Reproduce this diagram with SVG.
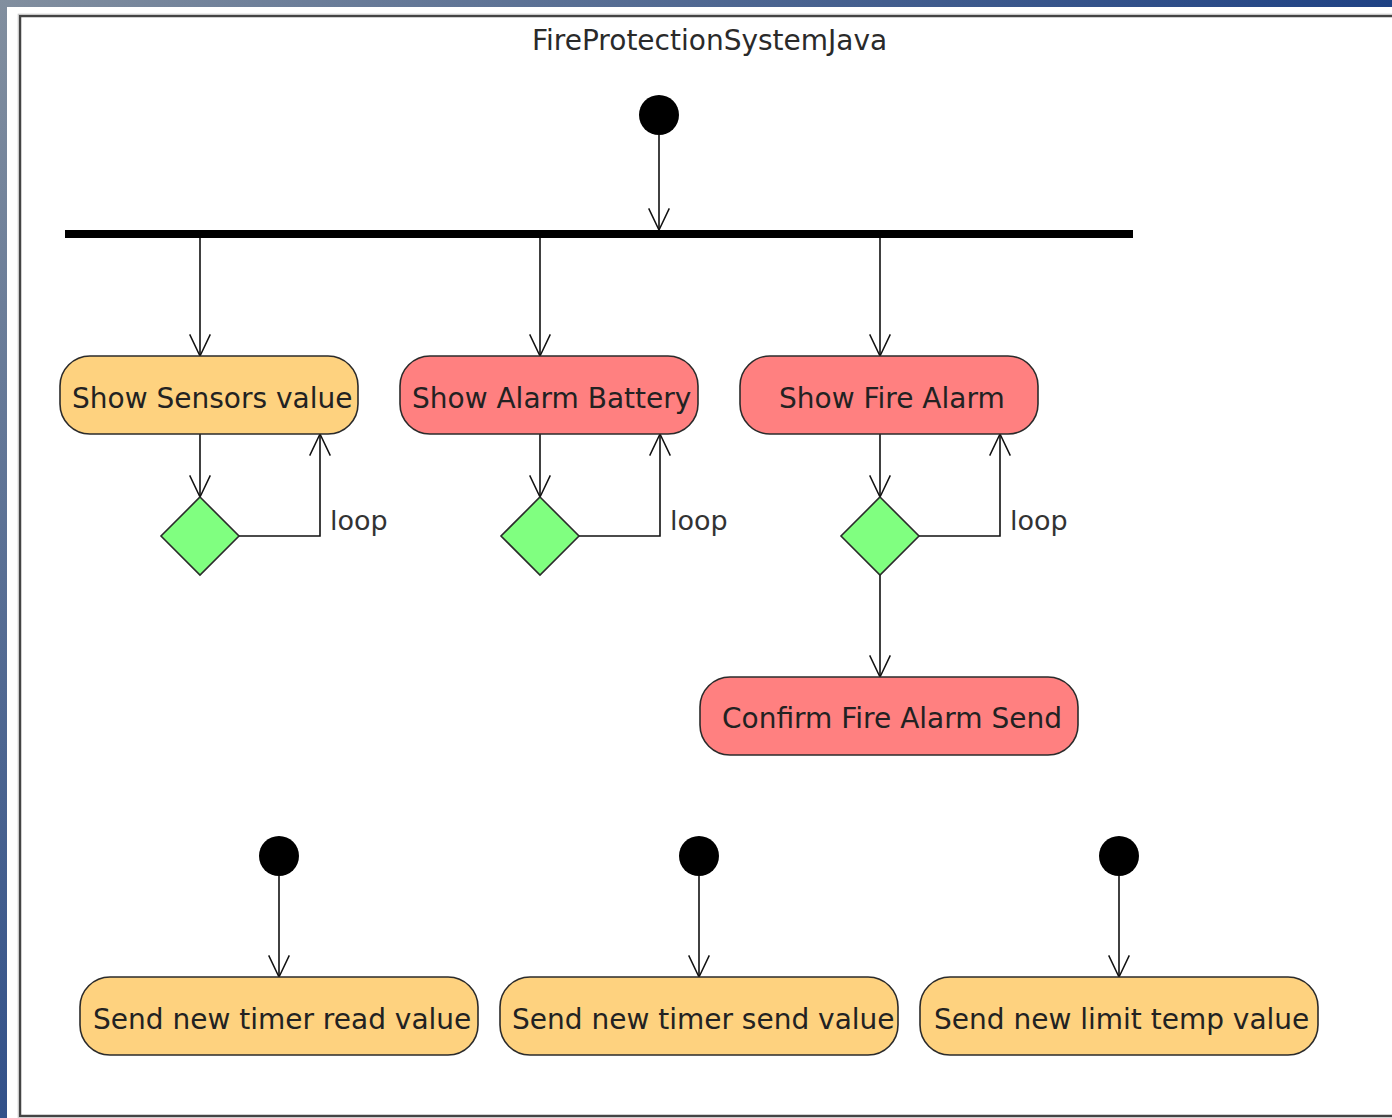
<svg xmlns="http://www.w3.org/2000/svg" width="1392" height="1118" viewBox="0 0 1392 1118">
  <defs>
    <linearGradient id="bg" gradientUnits="userSpaceOnUse" x1="0" y1="0" x2="760" y2="760">
      <stop offset="0" stop-color="#828f9f"/>
      <stop offset="1" stop-color="#163b82"/>
    </linearGradient>
    <marker id="arrow" markerUnits="userSpaceOnUse" orient="auto" refX="0" refY="0" markerWidth="30" markerHeight="30" viewBox="-30 -15 32 30" overflow="visible">
      <path d="M-23,-11 L0,0 L-23,11" fill="none" stroke="#111" stroke-width="1.6"/>
    </marker>
    <style>
      text { font-family: "DejaVu Sans", "Verdana", sans-serif; fill: #222; }
      .title { font-size: 28px; fill: #2a2a2a; }
      .label { font-size: 28px; }
      .loop { font-size: 27px; fill: #333; }
      .act { stroke: #2b2b2b; stroke-width: 1.6; }
      .yellow { fill: #fed27f; }
      .red { fill: #ff8080; }
      .dec { fill: #80ff80; stroke: #2b2b2b; stroke-width: 1.6; }
      .start { fill: #000; }
      .edge { fill: none; stroke: #111; stroke-width: 1.6; }
      .arr { marker-end: url(#arrow); }
    </style>
  </defs>

  <!-- window background and frame -->
  <rect x="0" y="0" width="1392" height="1118" fill="url(#bg)"/>
  <rect x="7" y="7" width="1385" height="1111" fill="#ffffff"/>
  <rect x="20" y="16" width="1420" height="1100" fill="none" stroke="#444" stroke-width="2.5"/>
  <rect x="18.2" y="14.2" width="1420" height="1104" fill="none" stroke="#c8c8c8" stroke-width="1"/>

  <text class="title" x="532" y="50">FireProtectionSystemJava</text>

  <!-- connectors -->
  <g id="connectors">
    <path class="edge arr" d="M659,135 L659,230"/>
    <path class="edge arr" d="M200,238 L200,356"/>
    <path class="edge arr" d="M540,238 L540,356"/>
    <path class="edge arr" d="M880,238 L880,356"/>
    <path class="edge arr" d="M200,434 L200,497"/>
    <path class="edge arr" d="M540,434 L540,497"/>
    <path class="edge arr" d="M880,434 L880,497"/>
    <path class="edge arr" d="M239,536 L320,536 L320,434"/>
    <path class="edge arr" d="M579,536 L660,536 L660,434"/>
    <path class="edge arr" d="M919,536 L1000,536 L1000,434"/>
    <path class="edge arr" d="M880,575 L880,677"/>
    <path class="edge arr" d="M279,876 L279,977"/>
    <path class="edge arr" d="M699,876 L699,977"/>
    <path class="edge arr" d="M1119,876 L1119,977"/>
    <text class="loop" x="330" y="530">loop</text>
    <text class="loop" x="670" y="530">loop</text>
    <text class="loop" x="1010" y="530">loop</text>
  </g>

  <!-- start nodes -->
  <g id="start-main"><circle class="start" cx="659" cy="115" r="20"/></g>
  <g id="start-read"><circle class="start" cx="279" cy="856" r="20"/></g>
  <g id="start-send"><circle class="start" cx="699" cy="856" r="20"/></g>
  <g id="start-limit"><circle class="start" cx="1119" cy="856" r="20"/></g>

  <!-- fork bar -->
  <g id="fork"><rect x="65" y="230" width="1068" height="8" fill="#000"/></g>

  <!-- activities -->
  <g id="show-sensors">
    <rect class="act yellow" x="60" y="356" width="298" height="78" rx="30" ry="30"/>
    <text class="label" x="72" y="408">Show Sensors value</text>
  </g>
  <g id="show-battery">
    <rect class="act red" x="400" y="356" width="298" height="78" rx="30" ry="30"/>
    <text class="label" x="412" y="408">Show Alarm Battery</text>
  </g>
  <g id="show-fire">
    <rect class="act red" x="740" y="356" width="298" height="78" rx="30" ry="30"/>
    <text class="label" x="779" y="408">Show Fire Alarm</text>
  </g>
  <g id="confirm-fire">
    <rect class="act red" x="700" y="677" width="378" height="78" rx="30" ry="30"/>
    <text class="label" x="722" y="728">Confirm Fire Alarm Send</text>
  </g>
  <g id="send-read">
    <rect class="act yellow" x="80" y="977" width="398" height="78" rx="30" ry="30"/>
    <text class="label" x="93" y="1029">Send new timer read value</text>
  </g>
  <g id="send-timer">
    <rect class="act yellow" x="500" y="977" width="398" height="78" rx="30" ry="30"/>
    <text class="label" x="512" y="1029">Send new timer send value</text>
  </g>
  <g id="send-limit">
    <rect class="act yellow" x="920" y="977" width="398" height="78" rx="30" ry="30"/>
    <text class="label" x="934" y="1029">Send new limit temp value</text>
  </g>

  <!-- decisions -->
  <g id="dec-sensors"><polygon class="dec" points="200,497 239,536 200,575 161,536"/></g>
  <g id="dec-battery"><polygon class="dec" points="540,497 579,536 540,575 501,536"/></g>
  <g id="dec-fire"><polygon class="dec" points="880,497 919,536 880,575 841,536"/></g>
</svg>
